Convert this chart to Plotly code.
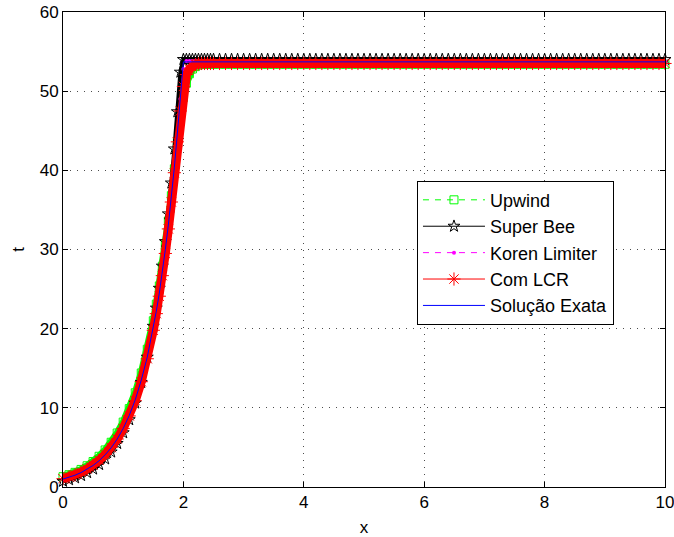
import plotly.graph_objects as go

# ---------------- data ----------------
x_rise = [0.0, 0.1, 0.2, 0.3, 0.4, 0.5, 0.6, 0.7, 0.8, 0.9, 1.0, 1.1, 1.2, 1.3,
          1.4, 1.5, 1.55, 1.6, 1.65, 1.7, 1.75, 1.8, 1.85, 1.9, 1.95, 2.0,
          2.05, 2.1, 2.15, 2.2, 2.25, 2.3, 2.35, 2.4, 2.45, 2.5]
x_flat = [round(2.6 + 0.1 * i, 2) for i in range(75)]  # 2.6 ... 10.0

upwind_rise = [1.30, 1.55, 1.85, 2.22, 2.68, 3.22, 3.88, 4.68, 5.65, 6.82, 8.20, 9.90,
               11.9, 14.4, 17.4, 21.0, 23.1, 25.4, 27.9, 30.6, 33.6, 36.8, 40.2, 43.6,
               46.7, 49.2, 51.0, 52.2, 52.8, 53.1, 53.3, 53.4, 53.4, 53.4, 53.4, 53.4]
upwind_flat = 53.4

superbee_rise = [0.72, 0.92, 1.16, 1.45, 1.82, 2.27, 2.84, 3.55, 4.42, 5.50, 6.85, 8.50,
                 10.6, 13.2, 16.4, 20.3, 22.6, 25.1, 27.9, 31.0, 34.5, 38.4, 42.7, 47.4,
                 52.4, 54.0, 54.0, 54.0, 54.0, 54.0, 54.0, 54.0, 54.0, 54.0, 54.0, 54.0]
superbee_flat = 54.0

koren_rise = [0.95, 1.17, 1.44, 1.77, 2.17, 2.66, 3.25, 3.98, 4.87, 5.96, 7.29, 8.92,
              10.9, 13.4, 16.3, 20.0, 22.1, 24.4, 27.0, 29.9, 33.0, 36.5, 40.3, 44.5,
              49.0, 52.8, 53.8, 53.8, 53.8, 53.8, 53.8, 53.8, 53.8, 53.8, 53.8, 53.8]
koren_flat = 53.8

lcr_rise = [1.05, 1.27, 1.54, 1.87, 2.28, 2.77, 3.37, 4.10, 4.98, 6.06, 7.38, 8.98,
            10.9, 13.3, 16.2, 19.8, 21.9, 24.1, 26.7, 29.5, 32.6, 36.0, 39.7, 43.6,
            47.5, 50.6, 52.1, 52.8, 53.2, 53.35, 53.45, 53.5, 53.5, 53.5, 53.5, 53.5]
lcr_flat = 53.5

exact_rise = [1.00, 1.22, 1.49, 1.82, 2.23, 2.72, 3.32, 4.06, 4.95, 6.05, 7.39, 9.03,
              11.0, 13.5, 16.4, 20.1, 22.2, 24.5, 27.1, 30.0, 33.1, 36.6, 40.4, 44.7,
              49.4, 53.7, 53.7, 53.7, 53.7, 53.7, 53.7, 53.7, 53.7, 53.7, 53.7, 53.7]
exact_flat = 53.7

names = ["Upwind", "Super Bee", "Koren Limiter", "Com LCR", "Solução Exata"]
x_ticks = [0, 2, 4, 6, 8, 10]
y_ticks = [0, 10, 20, 30, 40, 50, 60]

x_all = x_rise + x_flat


def full(rise, level):
    return rise + [level] * len(x_flat)


FONT = "Liberation Sans, Arial, Helvetica, sans-serif"

fig = go.Figure()

# background bands (no legend) giving the thick look of the dense markers
fig.add_trace(go.Scatter(x=x_all, y=full(upwind_rise, upwind_flat), mode="lines",
                         line=dict(color="#00ff00", width=7), showlegend=False,
                         hoverinfo="skip", cliponaxis=False))
fig.add_trace(go.Scatter(x=x_all, y=full(upwind_rise, upwind_flat), name=names[0],
                         mode="lines+markers", cliponaxis=False,
                         line=dict(color="#00ff00", width=1, dash="6px,6px"),
                         marker=dict(symbol="square-open", size=8,
                                     line=dict(color="#00ff00", width=1))))

fig.add_trace(go.Scatter(x=x_all, y=full(superbee_rise, superbee_flat), mode="lines",
                         line=dict(color="black", width=4), showlegend=False,
                         hoverinfo="skip", cliponaxis=False))
fig.add_trace(go.Scatter(x=x_all, y=full(superbee_rise, superbee_flat), name=names[1],
                         mode="lines+markers", cliponaxis=False,
                         line=dict(color="black", width=1),
                         marker=dict(symbol="star-open", size=9,
                                     line=dict(color="black", width=1))))

fig.add_trace(go.Scatter(x=x_all, y=full(koren_rise, koren_flat), name=names[2],
                         mode="lines+markers", cliponaxis=False,
                         line=dict(color="#ff00ff", width=1, dash="6px,6px"),
                         marker=dict(symbol="circle", size=4, color="#ff00ff")))

fig.add_trace(go.Scatter(x=x_all, y=full(lcr_rise, lcr_flat), mode="lines",
                         line=dict(color="red", width=9), showlegend=False,
                         hoverinfo="skip", cliponaxis=False))
fig.add_trace(go.Scatter(x=x_all, y=full(lcr_rise, lcr_flat), name=names[3],
                         mode="lines+markers", cliponaxis=False,
                         line=dict(color="red", width=1),
                         marker=dict(symbol="asterisk-open", size=11,
                                     line=dict(color="red", width=1))))

fig.add_trace(go.Scatter(x=x_all, y=full(exact_rise, exact_flat), name=names[4],
                         mode="lines", cliponaxis=False,
                         line=dict(color="blue", width=1)))

axis_common = dict(
    showline=True, linecolor="black", linewidth=1, mirror="ticks",
    ticks="inside", ticklen=5, tickcolor="black", tickwidth=1,
    showgrid=True, gridcolor="rgba(0,0,0,0.7)", griddash="1px,6px", gridwidth=1,
    zeroline=False, automargin=False, ticklabeloverflow="allow",
    tickfont=dict(family=FONT, size=17, color="black"),
)

fig.update_layout(
    width=674, height=537,
    margin=dict(l=63, r=9, t=12, b=50, autoexpand=False),
    paper_bgcolor="white", plot_bgcolor="white",
    font=dict(family=FONT, size=17, color="black"),
    xaxis=dict(range=[0, 10], tickvals=x_ticks,
               title=dict(text="x", font=dict(family=FONT, size=17), standoff=10),
               **axis_common),
    yaxis=dict(range=[0, 60], tickvals=y_ticks,
               title=dict(text="t", font=dict(family=FONT, size=17), standoff=10),
               **axis_common),
    legend=dict(x=0.588, y=0.645, xanchor="left", yanchor="top",
                bgcolor="white", bordercolor="black", borderwidth=1,
                font=dict(family=FONT, size=18, color="black"),
                itemwidth=62, traceorder="normal"),
    showlegend=True,
)

fig.write_html("out.html")
